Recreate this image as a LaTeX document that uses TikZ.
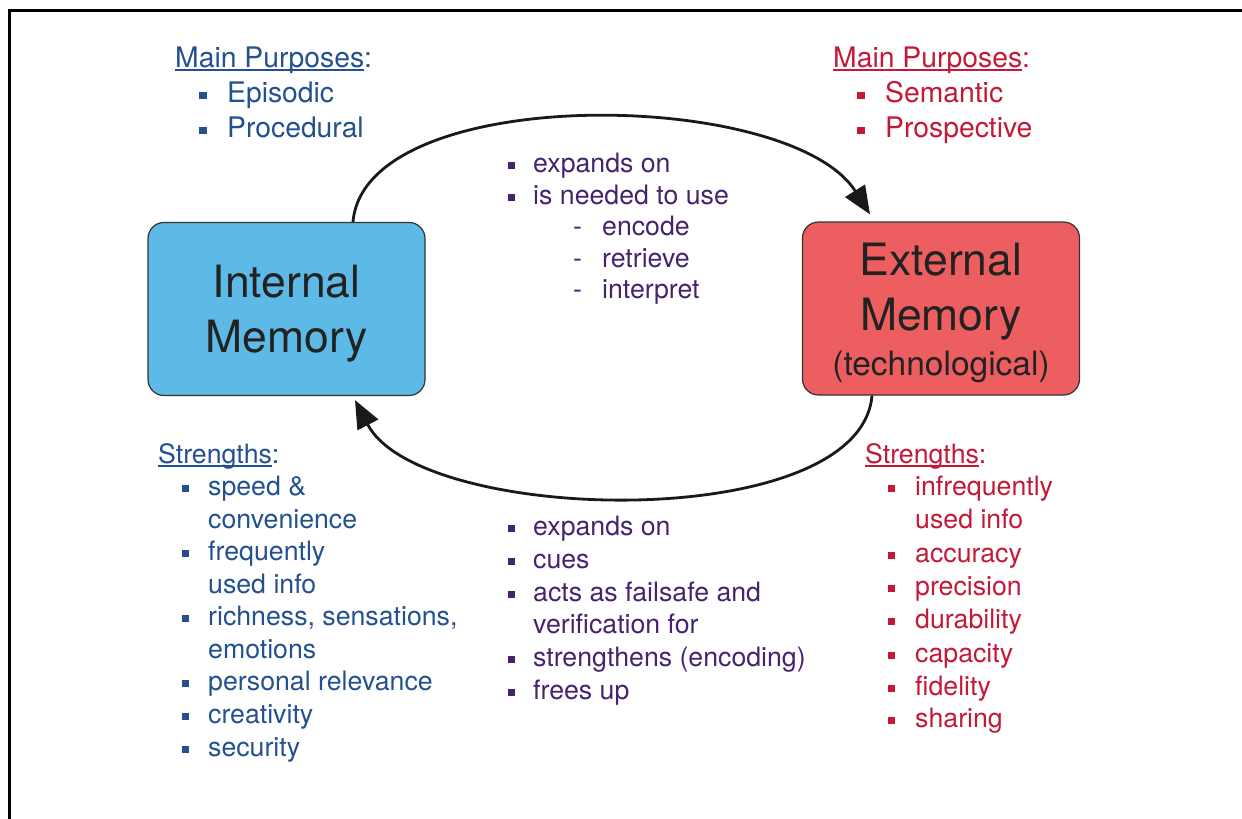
\documentclass[tikz,border=0pt]{standalone}
\usepackage{fontspec}
\setmainfont{TeX Gyre Heros}
\usetikzlibrary{arrows.meta}
\definecolor{tblue}{HTML}{23508F}
\definecolor{tred}{HTML}{C31937}
\definecolor{tpurp}{HTML}{46236E}
\definecolor{boxblue}{HTML}{5DB9E6}
\definecolor{boxred}{HTML}{EC5E60}
\definecolor{boxline}{HTML}{333333}
\definecolor{boxtxt}{HTML}{222222}
\newcommand\myul[1]{\setbox0\hbox{#1}\rlap{\rule[-3.5pt]{\wd0}{1.7pt}}\box0}
\begin{document}
\begin{tikzpicture}[x=1pt,y=-1pt,
  lbl/.style={anchor=base west, inner sep=0pt, font=\fontsize{26.7}{32}\selectfont},
  bigl/.style={anchor=base west, inner sep=0pt, font=\fontsize{28.3}{34}\selectfont},
  bul/.style={rectangle, inner sep=0pt, minimum size=7pt},
  membox/.style={draw=boxline, line width=1.2pt, rounded corners=16pt, minimum width=277pt, minimum height=173pt},
  boxtext/.style={anchor=base, inner sep=0pt, text=boxtxt, font=\fontsize{44.5}{50}\selectfont},
  conn/.style={line width=2.8pt, draw=black!90, -{Triangle[length=28pt,width=23pt]}}
]
\useasboundingbox (0,0) rectangle (1242,819);
% frame
\draw[line width=2.8pt] (9.7,819) -- (9.7,10.5) -- (1242,10.5);

% boxes
\node[membox, fill=boxblue] (int) at (286.5,309) {};
\node[boxtext] (intA) at (286.5,297) {Internal};
\node[boxtext] (intB) at (286.5,352) {Memory};
\node[membox, fill=boxred] (ext) at (941,308.5) {};
\node[boxtext] (extA) at (941,275) {External};
\node[boxtext] (extB) at (941,330) {Memory};
\node[boxtext, font=\fontsize{33.5}{40}\selectfont] (extC) at (941,375) {(technological)};

% connectors
\draw[conn] ([xshift=66.5pt]int.north) .. controls (365,82) and (790,88) .. ([xshift=-71pt,yshift=7pt]ext.north);
\draw[conn] ([xshift=-69pt]ext.south) .. controls (860,535) and (420,525) .. ([xshift=68.5pt,yshift=-4pt]int.south);

% top-left
\begin{scope}[every node/.append style={text=tblue, fill=tblue}]
\node[bigl, fill=none] (tlh) at (175,67) {\myul{Main Purposes}:};
\node[bul, minimum size=7.5pt] (tlb1) at (203,95.5) {};
\node[bigl, fill=none] (tlt1) at (227,102) {Episodic};
\node[bul, minimum size=7.5pt] (tlb2) at (203,130.5) {};
\node[bigl, fill=none] (tlt2) at (227,137) {Procedural};
\end{scope}

% top-right
\begin{scope}[every node/.append style={text=tred, fill=tred}]
\node[bigl, fill=none] (trh) at (833,67) {\myul{Main Purposes}:};
\node[bul, minimum size=7.5pt] (trb1) at (861,95.5) {};
\node[bigl, fill=none] (trt1) at (885,102) {Semantic};
\node[bul, minimum size=7.5pt] (trb2) at (861,130.5) {};
\node[bigl, fill=none] (trt2) at (885,137) {Prospective};
\end{scope}

% middle top
\begin{scope}[every node/.append style={text=tpurp, fill=tpurp}]
\node[bul] (mtb1) at (511.5,165) {};
\node[lbl, fill=none] (mtt1) at (533,172) {expands on};
\node[bul] (mtb2) at (511.5,197) {};
\node[lbl, fill=none] (mtt2) at (533,204) {is needed to use};
\node[lbl, fill=none] (mtd1) at (573,235) {-};
\node[lbl, fill=none] (mts1) at (602,235) {encode};
\node[lbl, fill=none] (mtd2) at (573,267) {-};
\node[lbl, fill=none] (mts2) at (602,267) {retrieve};
\node[lbl, fill=none] (mtd3) at (573,298) {-};
\node[lbl, fill=none] (mts3) at (602,298) {interpret};
\end{scope}

% middle bottom
\begin{scope}[every node/.append style={text=tpurp, fill=tpurp}]
\node[bul] (mbb1) at (511.5,528) {};
\node[lbl, fill=none] (mbt1) at (533,535) {expands on};
\node[bul] (mbb2) at (511.5,561) {};
\node[lbl, fill=none] (mbt2) at (533,568) {cues};
\node[bul] (mbb3) at (511.5,594) {};
\node[lbl, fill=none] (mbt3) at (533,601) {acts as failsafe and};
\node[lbl, fill=none] (mbt3b) at (533,633) {verification for};
\node[bul] (mbb4) at (511.5,659) {};
\node[lbl, fill=none] (mbt4) at (533,666) {strengthens (encoding)};
\node[bul] (mbb5) at (511.5,692) {};
\node[lbl, fill=none] (mbt5) at (533,699) {frees up};
\end{scope}

% bottom-left
\begin{scope}[every node/.append style={text=tblue, fill=tblue}]
\node[lbl, fill=none] (blh) at (158,463) {\myul{Strengths}:};
\node[bul] (blb1) at (185,488) {};
\node[lbl, fill=none] (blt1) at (208,495) {speed \&};
\node[lbl, fill=none] (blt1b) at (208,528) {convenience};
\node[bul] (blb2) at (185,553) {};
\node[lbl, fill=none] (blt2) at (208,560) {frequently};
\node[lbl, fill=none] (blt2b) at (208,593) {used info};
\node[bul] (blb3) at (185,618) {};
\node[lbl, fill=none] (blt3) at (208,625) {richness, sensations,};
\node[lbl, fill=none] (blt3b) at (208,658) {emotions};
\node[bul] (blb4) at (185,683) {};
\node[lbl, fill=none] (blt4) at (208,690) {personal relevance};
\node[bul] (blb5) at (185,716) {};
\node[lbl, fill=none] (blt5) at (208,723) {creativity};
\node[bul] (blb6) at (185,749) {};
\node[lbl, fill=none] (blt6) at (208,756) {security};
\end{scope}

% bottom-right
\begin{scope}[every node/.append style={text=tred, fill=tred}]
\node[lbl, fill=none] (brh) at (865,463) {\myul{Strengths}:};
\node[bul] (brb1) at (891.5,488) {};
\node[lbl, fill=none] (brt1) at (915,495) {infrequently};
\node[lbl, fill=none] (brt1b) at (915,528) {used info};
\node[bul] (brb2) at (891.5,555) {};
\node[lbl, fill=none] (brt2) at (915,562) {accuracy};
\node[bul] (brb3) at (891.5,588) {};
\node[lbl, fill=none] (brt3) at (915,595) {precision};
\node[bul] (brb4) at (891.5,621) {};
\node[lbl, fill=none] (brt4) at (915,628) {durability};
\node[bul] (brb5) at (891.5,655) {};
\node[lbl, fill=none] (brt5) at (915,662) {capacity};
\node[bul] (brb6) at (891.5,688) {};
\node[lbl, fill=none] (brt6) at (915,695) {fidelity};
\node[bul] (brb7) at (891.5,720) {};
\node[lbl, fill=none] (brt7) at (915,727) {sharing};
\end{scope}
\end{tikzpicture}
\end{document}
